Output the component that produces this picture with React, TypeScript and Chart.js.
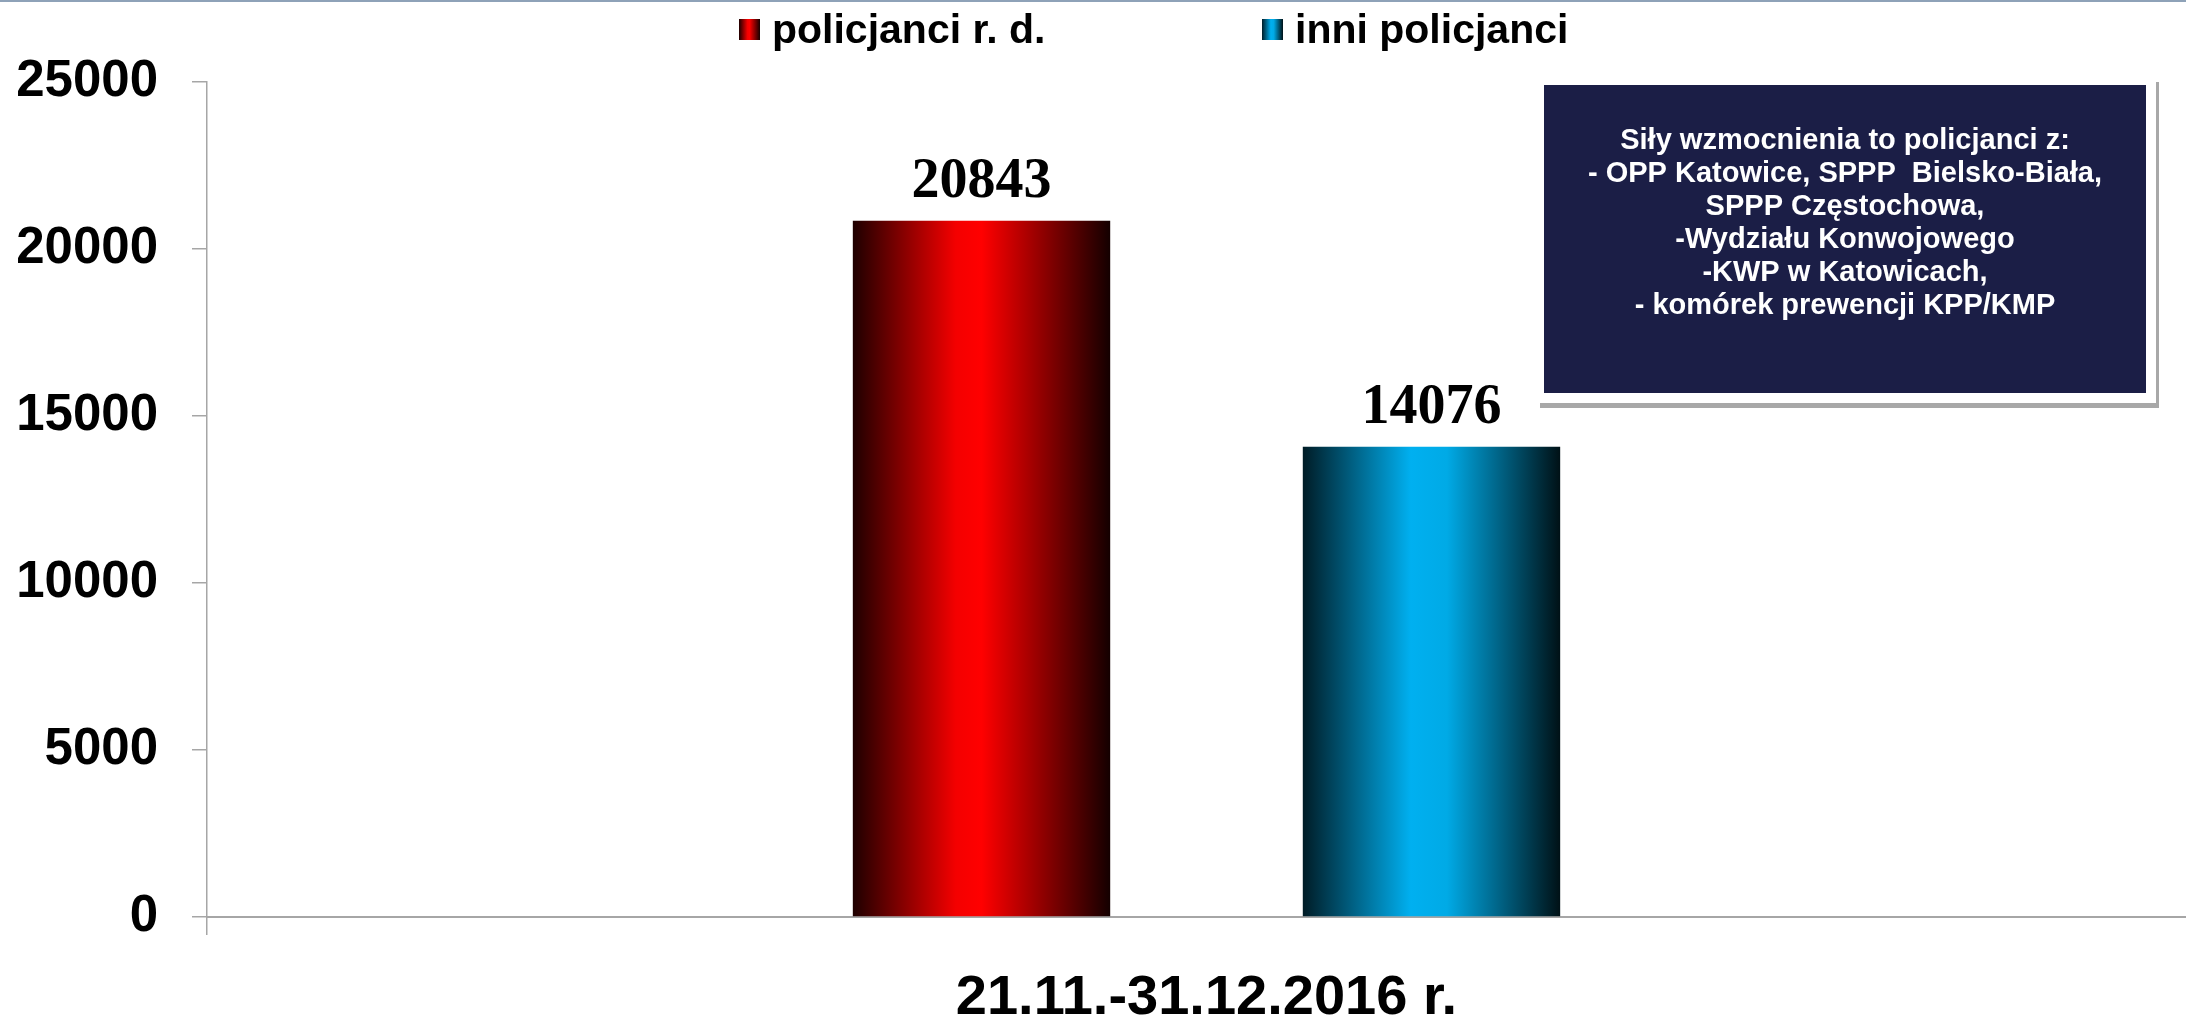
import React, { useEffect, useRef } from 'react';
import { Chart, registerables } from 'chart.js';

Chart.register(...registerables);

// ---- data ----
const categories = ['21.11.-31.12.2016 r.'];
const seriesNames = ['policjanci r. d.', 'inni policjanci'];
const policjanciRD = [20843];
const inniPolicjanci = [14076];
const yTicks = [0, 5000, 10000, 15000, 20000, 25000];
const noteLines = [
  'Siły wzmocnienia to policjanci z:',
  '- OPP Katowice, SPPP  Bielsko-Biała,',
  'SPPP Częstochowa,',
  '-Wydziału Konwojowego',
  '-KWP w Katowicach,',
  '- komórek prewencji KPP/KMP',
];

// ---- styles ----
const SANS = '"Liberation Sans", Arial, sans-serif';
const SERIF = '"Liberation Serif", "Times New Roman", serif';
const redStops: [number, string][] = [
  [0, '#1e0000'],
  [0.4, '#f40000'],
  [0.5, '#ff0000'],
  [1, '#140000'],
];
const blueStops: [number, string][] = [
  [0, '#001c26'],
  [0.42, '#00b0f0'],
  [0.56, '#00aae6'],
  [1, '#001116'],
];
const stopsList = [redStops, blueStops];
const fallbacks = ['#ff0000', '#00b0f0'];

const W = 2206;
const H = 1027;

function makeGradient(ctx: CanvasRenderingContext2D, left: number, width: number, stops: [number, string][]) {
  const g = ctx.createLinearGradient(left, 0, left + width, 0);
  stops.forEach(([o, c]) => g.addColorStop(o, c));
  return g;
}

function barFill(idx: number) {
  return (c: any) => {
    const meta = c.chart.getDatasetMeta(c.datasetIndex);
    const el: any = meta && c.dataIndex !== undefined ? meta.data[c.dataIndex] : null;
    if (!el || !Number.isFinite(el.x) || !Number.isFinite(el.width)) return fallbacks[idx];
    return makeGradient(c.chart.ctx, el.x - el.width / 2, el.width, stopsList[idx]);
  };
}

const decorPlugin = {
  id: 'decor',
  beforeDraw(chart: any) {
    const ctx = chart.ctx;
    ctx.save();
    ctx.fillStyle = '#ffffff';
    ctx.fillRect(0, 0, chart.width, chart.height);
    ctx.fillStyle = '#8ea2b8';
    ctx.fillRect(0, 0, chart.width, 2);
    ctx.restore();
  },
  afterDraw(chart: any) {
    const ctx: CanvasRenderingContext2D = chart.ctx;
    ctx.save();
    // legend
    const legendX = [739, 1262];
    ctx.font = `bold 41px ${SANS}`;
    ctx.textBaseline = 'alphabetic';
    ctx.textAlign = 'left';
    seriesNames.forEach((name, i) => {
      const bx = legendX[i];
      ctx.fillStyle = makeGradient(ctx, bx, 21, stopsList[i]);
      ctx.fillRect(bx, 19, 21, 21);
      ctx.fillStyle = '#000';
      ctx.fillText(name, bx + 33, 43);
    });

    // note box
    const bx0 = 1544, by0 = 85, bw = 602, bh = 308;
    ctx.fillStyle = '#a8a8a8';
    ctx.fillRect(bx0 - 4, by0 - 3, bw + 17, bh + 18);
    ctx.fillStyle = '#ffffff';
    ctx.fillRect(bx0 - 10, by0 - 10, bw + 20, bh + 20);
    ctx.fillStyle = '#1b1e46';
    ctx.fillRect(bx0, by0, bw, bh);
    ctx.fillStyle = '#ffffff';
    ctx.font = `bold 29px ${SANS}`;
    ctx.textAlign = 'center';
    noteLines.forEach((line, i) => {
      ctx.fillText(line, bx0 + bw / 2, 149 + i * 33);
    });
    ctx.restore();
  },
  afterDatasetsDraw(chart: any) {
    const ctx: CanvasRenderingContext2D = chart.ctx;
    ctx.save();
    ctx.font = `bold 56px ${SERIF}`;
    ctx.fillStyle = '#000';
    ctx.textAlign = 'center';
    ctx.textBaseline = 'alphabetic';
    chart.data.datasets.forEach((ds: any, di: number) => {
      const meta = chart.getDatasetMeta(di);
      meta.data.forEach((el: any, i: number) => {
        ctx.fillText(String(ds.data[i]), el.x, el.y - 24);
      });
    });
    ctx.restore();
  },
};

export default function App() {
  const ref = useRef<HTMLCanvasElement | null>(null);
  useEffect(() => {
    document.documentElement.style.overflow = 'hidden';
    document.body.style.margin = '0';
    const canvas = ref.current!;
    const chart = new Chart(canvas, {
      type: 'bar',
      data: {
        labels: categories,
        datasets: [
          {
            label: seriesNames[0],
            data: policjanciRD,
            backgroundColor: barFill(0),
            borderWidth: 0,
            categoryPercentage: 0.4502,
            barPercentage: 0.572,
          },
          {
            label: seriesNames[1],
            data: inniPolicjanci,
            backgroundColor: barFill(1),
            borderWidth: 0,
            categoryPercentage: 0.4502,
            barPercentage: 0.572,
          },
        ],
      },
      options: {
        responsive: false,
        animation: false,
        layout: { padding: { left: 16, top: 82, right: 0, bottom: 0 } },
        plugins: {
          legend: { display: false },
          tooltip: { enabled: false },
        },
        scales: {
          x: {
            afterFit: (scale: any) => {
              scale.height = 110;
            },
            grid: {
              display: true,
              drawOnChartArea: false,
              drawTicks: true,
              tickLength: 18,
              color: '#a6a6a6',
              lineWidth: 1.5,
              offset: true,
            },
            border: { display: true, color: '#a6a6a6', width: 2 },
            ticks: {
              color: '#000',
              maxRotation: 0,
              font: { family: SANS, size: 56, weight: 'bold', lineHeight: 1 },
              padding: 36,
            },
          },
          y: {
            min: 0,
            max: 25000,
            afterBuildTicks: (axis: any) => {
              axis.ticks = yTicks.map((v) => ({ value: v }));
            },
            afterFit: (scale: any) => {
              scale.width = 191;
            },
            ticks: {
              color: '#000',
              callback: (v: any) => String(v),
              font: { family: SANS, size: 51, weight: 'bold', lineHeight: 1.2 },
              padding: 34,
            },
            grid: {
              drawOnChartArea: false,
              drawTicks: true,
              tickLength: 15,
              color: '#a6a6a6',
              lineWidth: 1.5,
            },
            border: { display: true, color: '#a6a6a6', width: 1.5 },
          },
        },
      },
      plugins: [decorPlugin],
    } as any);
    chart.update();
    return () => chart.destroy();
  }, []);
  return (
    <div style={{ position: 'absolute', left: 0, top: 0, width: W, height: H, background: '#fff' }}>
      <canvas ref={ref} width={W} height={H} style={{ width: W, height: H, display: 'block' }} />
    </div>
  );
}
